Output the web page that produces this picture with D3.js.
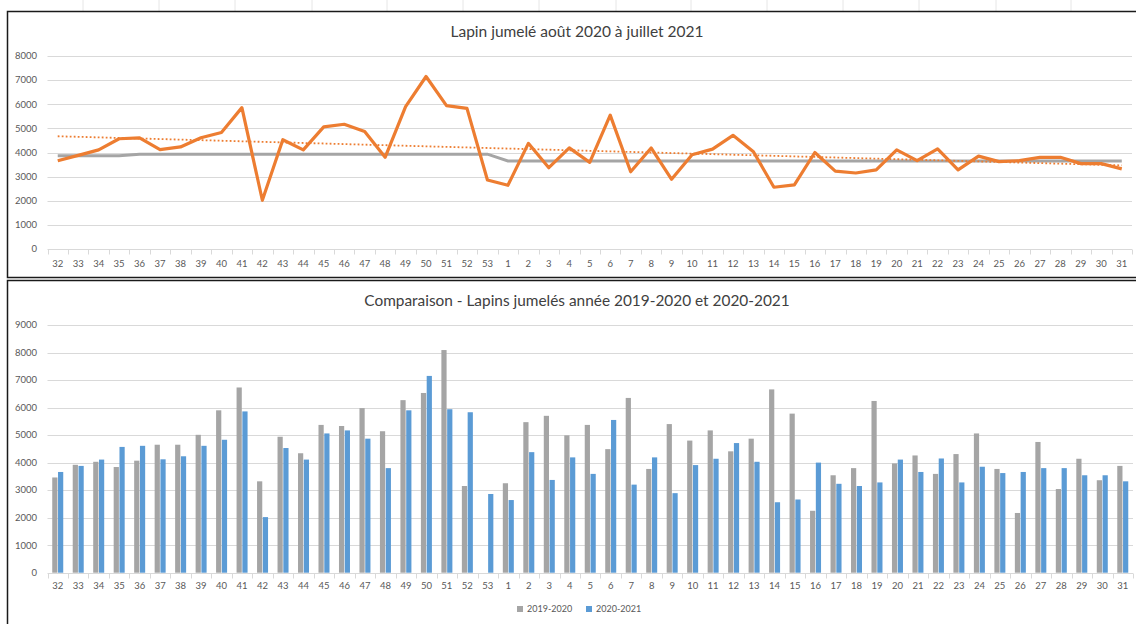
<!DOCTYPE html>
<html>
<head>
<meta charset="utf-8">
<script src="https://cdn.jsdelivr.net/npm/d3@7"></script>
<style>
  body { margin: 0; background: #fff; }
  svg { display: block; font-family: Lato, "Open Sans", sans-serif; }
</style>
</head>
<body>
<div id="chart-area"></div>
<script>
// weeks from aug 2020 to jul 2021
let weeks = ["32","33","34","35","36","37","38","39","40","41","42","43","44","45","46","47","48","49","50","51","52","53",
	"1","2","3","4","5","6","7","8","9","10","11","12","13","14","15","16","17","18","19","20","21","22","23","24","25","26","27","28","29","30","31"];

// 2020-2021 (orange line and blue bars)
let values2021 = [3660,3880,4110,4570,4610,4120,4230,4610,4830,5860,2020,4530,4110,5060,5170,4870,3800,5900,7150,5940,5830,2860,
	2640,4380,3370,4190,3590,5550,3200,4190,2890,3910,4140,4710,4030,2560,2660,4000,3230,3150,3280,4110,3660,4150,3280,3850,3620,3660,3800,3800,3540,3540,3320];

// 2019-2020 (gray bars), week 53 has no value
let values2020 = [3460,3920,4030,3840,4070,4650,4650,5010,5900,6730,3320,4940,4340,5370,5330,5980,5140,6270,6530,8090,3150,null,
	3250,5470,5700,4990,5370,4490,6350,3770,5400,4800,5170,4410,4870,6660,5780,2250,3540,3800,6240,3970,4260,3590,4310,5060,3770,2170,4750,3040,4140,3360,3880];

// gray reference line of the top chart
let refLine = [3870,3870,3870,3870,3930,3930,3930,3930,3930,3930,3930,3930,3930,3930,3930,3930,3930,3930,3930,3930,3930,3930,
	3650,3650,3650,3650,3650,3650,3650,3650,3650,3650,3650,3650,3650,3650,3650,3650,3650,3650,3650,3650,3650,3650,3650,3650,3650,3650,3650,3650,3650,3650,3650];

let topTicks = [0,1000,2000,3000,4000,5000,6000,7000,8000];
let bottomTicks = [0,1000,2000,3000,4000,5000,6000,7000,8000,9000];
let seriesNames = ["2019-2020","2020-2021"];

let width = 1136, height = 624;
let textColor = "#595959", gridColor = "#d9d9d9";
let gray = "#a5a5a5", blue = "#5b9bd5", orange = "#ed7d31";

let svg = d3.select("#chart-area").append("svg")
	.attr("width", width)
	.attr("height", height);

// faint spreadsheet lines above the first chart
[83,159,235,312,387,463,539,616,691,767,843,919,996,1071].forEach(x => {
	svg.append("line").attr("x1", x).attr("x2", x).attr("y1", 0).attr("y2", 11)
		.attr("stroke", "#e6e6e6").attr("stroke-width", 1);
});

// chart frames
svg.append("rect").attr("x", 7.5).attr("y", 11.5).attr("width", 1140).attr("height", 266)
	.attr("fill", "white").attr("stroke", "#1a1a1a").attr("stroke-width", 1.5);
svg.append("rect").attr("x", 7.5).attr("y", 280.5).attr("width", 1140).attr("height", 360)
	.attr("fill", "white").attr("stroke", "#1a1a1a").attr("stroke-width", 1.5);

function drawAxes(g, x, y, ticks, labelY) {
	// horizontal gridlines
	g.selectAll(".grid").data(ticks.slice(1)).enter().append("line")
		.attr("x1", x.range()[0]).attr("x2", x.range()[1])
		.attr("y1", d => Math.round(y(d)) + 0.5).attr("y2", d => Math.round(y(d)) + 0.5)
		.attr("stroke", gridColor).attr("stroke-width", 1);

	// y labels
	g.selectAll(".ylab").data(ticks).enter().append("text")
		.attr("x", 37).attr("y", d => y(d)).attr("dy", "0.35em")
		.attr("text-anchor", "end").attr("font-size", 9.5).attr("fill", textColor)
		.text(d => d);

	// x axis line and category ticks
	let y0 = Math.round(y(0)) + 0.5;
	g.append("line").attr("x1", x.range()[0]).attr("x2", x.range()[1])
		.attr("y1", y0).attr("y2", y0).attr("stroke", gridColor).attr("stroke-width", 1);
	let edges = weeks.map(w => x(w)).concat([x.range()[1]]);
	g.selectAll(".xtick").data(edges).enter().append("line")
		.attr("x1", d => Math.round(d) + 0.5).attr("x2", d => Math.round(d) + 0.5)
		.attr("y1", y0).attr("y2", y0 + 5).attr("stroke", gridColor);

	g.selectAll(".xlab").data(weeks).enter().append("text")
		.attr("x", d => x(d) + x.bandwidth() / 2).attr("y", labelY).attr("dy", "0.35em")
		.attr("text-anchor", "middle").attr("font-size", 9.5).attr("fill", textColor)
		.text(d => d);
}

// ---- top chart : line ----
let topChart = svg.append("g");
let xTop = d3.scaleBand().domain(weeks).range([47.5, 1132]);
let yTop = d3.scaleLinear().domain([0, 8000]).range([249, 56]);

drawAxes(topChart, xTop, yTop, topTicks, 264);

topChart.append("text").attr("x", 577).attr("y", 32).attr("dy", "0.35em")
	.attr("text-anchor", "middle").attr("font-size", 15.5).attr("fill", "#404040")
	.text("Lapin jumelé août 2020 à juillet 2021");

let cx = d => xTop(d) + xTop.bandwidth() / 2;

// reference line
topChart.append("path")
	.datum(weeks.map((w, i) => [cx(w), yTop(refLine[i])]))
	.attr("d", d3.line())
	.attr("fill", "none").attr("stroke", gray).attr("stroke-width", 3);

// linear trend (least squares on the 2020-2021 values)
let n = values2021.length;
let mx = d3.mean(d3.range(n)), my = d3.mean(values2021);
let slope = d3.sum(d3.range(n), i => (i - mx) * (values2021[i] - my)) / d3.sum(d3.range(n), i => (i - mx) * (i - mx));
let icpt = my - slope * mx;
topChart.append("line")
	.attr("x1", cx(weeks[0])).attr("y1", yTop(icpt))
	.attr("x2", cx(weeks[n - 1])).attr("y2", yTop(icpt + slope * (n - 1)))
	.attr("stroke", orange).attr("stroke-width", 1.8).attr("stroke-dasharray", "1.8,2.2");

// main line
topChart.append("path")
	.datum(weeks.map((w, i) => [cx(w), yTop(values2021[i])]))
	.attr("d", d3.line())
	.attr("fill", "none").attr("stroke", orange).attr("stroke-width", 3.2)
	.attr("stroke-linejoin", "round");

// ---- bottom chart : grouped bars ----
let bottomChart = svg.append("g");
let xBot = d3.scaleBand().domain(weeks).range([47.5, 1133]);
let yBot = d3.scaleLinear().domain([0, 9000]).range([572.7, 325]);

drawAxes(bottomChart, xBot, yBot, bottomTicks, 586);

bottomChart.append("text").attr("x", 577).attr("y", 301).attr("dy", "0.35em")
	.attr("text-anchor", "middle").attr("font-size", 15.4).attr("fill", "#404040")
	.text("Comparaison - Lapins jumelés année 2019-2020 et 2020-2021");

let inner = d3.scaleBand().domain(seriesNames).range([-5.5, 5.5]).paddingInner(0.1);
let colors = d3.scaleOrdinal().domain(seriesNames).range([gray, blue]);

let groups = bottomChart.selectAll(".week").data(weeks).enter().append("g")
	.attr("transform", d => `translate(${xBot(d) + xBot.bandwidth() / 2},0)`);

groups.selectAll("rect")
	.data((w, i) => [
		{s: "2019-2020", v: values2020[i]},
		{s: "2020-2021", v: values2021[i]}
	].filter(d => d.v != null))
	.enter().append("rect")
	.attr("x", d => inner(d.s))
	.attr("width", inner.bandwidth())
	.attr("y", d => yBot(d.v))
	.attr("height", d => yBot(0) - yBot(d.v))
	.attr("fill", d => colors(d.s));

// legend
let legend = bottomChart.selectAll(".legend").data(seriesNames).enter().append("g")
	.attr("transform", (d, i) => `translate(${517 + i * 69},609)`);
legend.append("rect").attr("x", 0).attr("y", -3).attr("width", 6).attr("height", 6)
	.attr("fill", d => colors(d));
legend.append("text").attr("x", 10).attr("y", 0).attr("dy", "0.35em")
	.attr("font-size", 9).attr("fill", textColor).text(d => d);
</script>
</body>
</html>
